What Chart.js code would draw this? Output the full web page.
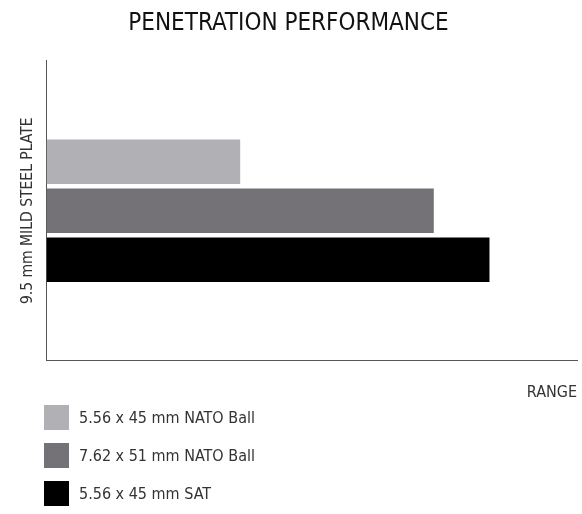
<!DOCTYPE html>
<html>
<head>
<meta charset="utf-8">
<script src="https://cdn.jsdelivr.net/npm/chart.js@4.4.1/dist/chart.umd.min.js"></script>
<style>
  html, body { margin: 0; padding: 0; background: #fff; }
  #wrap { position: relative; width: 582px; height: 514px; }
  #legend { position: absolute; left: 44px; top: 405px; font-family: 'Liberation Sans Narrow', 'DejaVu Sans Condensed', sans-serif; font-size: 16px; color: #333; }
  #legend div { display: flex; align-items: center; height: 25px; margin-bottom: 13px; }
  #legend span.box { width: 25px; height: 25px; margin-right: 10px; }
</style>
</head>
<body>
<div id="wrap">
  <canvas id="myChart" width="582" height="514"></canvas>
  <div id="legend"></div>
</div>
<script>
// data (range, arbitrary units 0-100)
let categories = ['9.5 mm MILD STEEL PLATE'];
let seriesNames = ['5.56 x 45 mm NATO Ball', '7.62 x 51 mm NATO Ball', '5.56 x 45 mm SAT'];
let natoBall556 = [36.5];
let natoBall762 = [73];
let sat556 = [83.5];
let colors = ['#b1b0b5', '#747277', '#000000'];

let fontFamily = "'Liberation Sans Narrow', 'DejaVu Sans Condensed', sans-serif";

let ctx = document.getElementById('myChart').getContext('2d');
let myChart = new Chart(ctx, {
    type: 'bar',
    data: {
        labels: categories,
        datasets: [{
            label: seriesNames[0],
            data: natoBall556,
            backgroundColor: colors[0]
        }, {
            label: seriesNames[1],
            data: natoBall762,
            backgroundColor: colors[1]
        }, {
            label: seriesNames[2],
            data: sat556,
            backgroundColor: colors[2]
        }]
    },
    options: {
        responsive: false,
        animation: false,
        indexAxis: 'y',
        categoryPercentage: 0.49,
        barPercentage: 0.91,
        layout: {
            padding: {left: 0, right: 5, top: 0, bottom: 112}
        },
        plugins: {
            legend: {display: false},
            tooltip: {enabled: false},
            title: {
                display: true,
                text: 'PENETRATION PERFORMANCE',
                color: '#111',
                font: {family: fontFamily, size: 24, weight: 'normal'},
                padding: {top: 9, bottom: 23}
            }
        },
        scales: {
            x: {
                min: 0,
                max: 100,
                grid: {display: false},
                ticks: {display: false},
                border: {display: true, color: '#555', width: 1},
                title: {
                    display: true,
                    text: 'RANGE',
                    align: 'end',
                    color: '#333',
                    font: {family: fontFamily, size: 16},
                    padding: {top: 14, bottom: 0}
                }
            },
            y: {
                grid: {display: false},
                ticks: {display: false},
                border: {display: true, color: '#555', width: 1},
                title: {
                    display: true,
                    text: categories[0],
                    color: '#333',
                    font: {family: fontFamily, size: 15.5},
                    padding: {top: 19, bottom: 1}
                }
            }
        }
    }
});

// legend, one row per series
let legend = document.getElementById('legend');
for (let i = 0; i < myChart.data.datasets.length; i++) {
    let ds = myChart.data.datasets[i];
    let row = document.createElement('div');
    let box = document.createElement('span');
    box.className = 'box';
    box.style.background = ds.backgroundColor;
    row.appendChild(box);
    row.appendChild(document.createTextNode(ds.label));
    legend.appendChild(row);
}
</script>
</body>
</html>
